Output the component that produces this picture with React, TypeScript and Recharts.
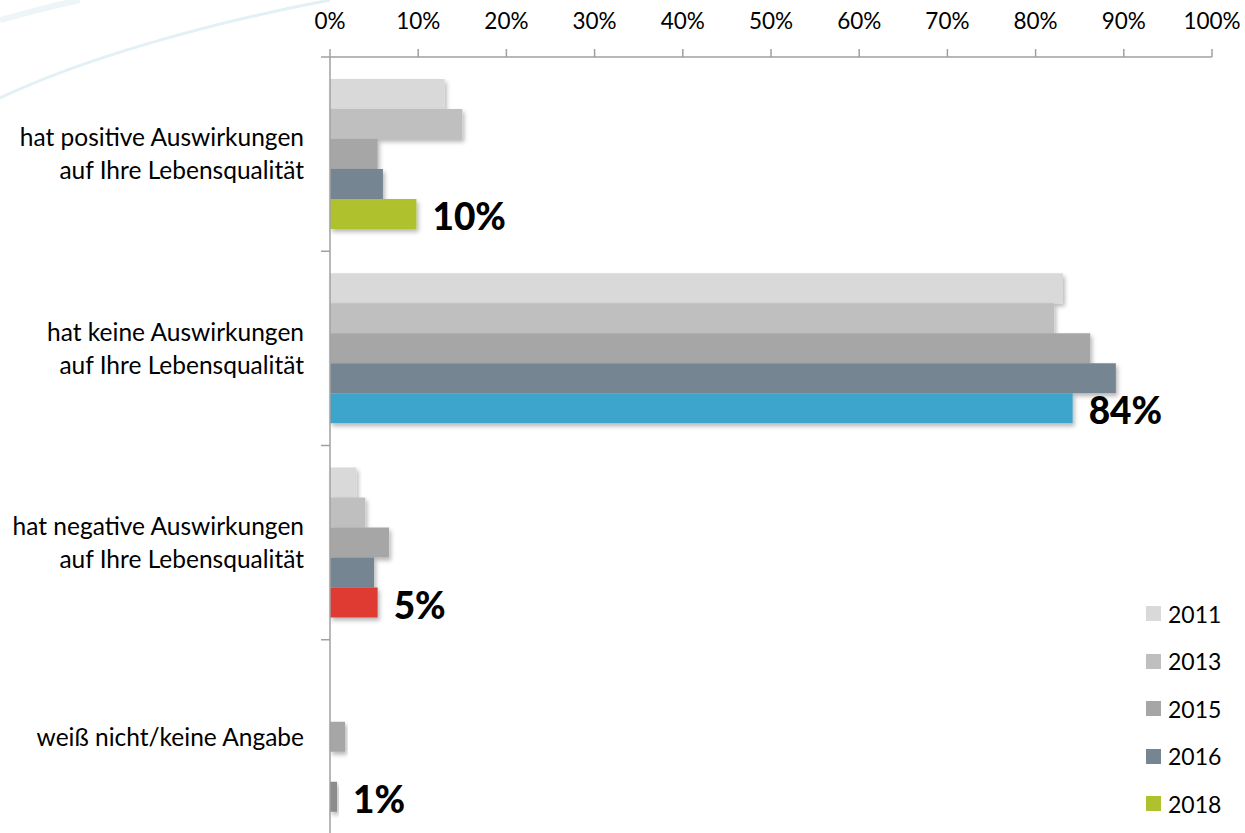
import React from 'react';
import { BarChart, Bar, XAxis, YAxis, Cell, LabelList, Legend } from 'recharts';

const categories = [
  'hat positive Auswirkungen\nauf Ihre Lebensqualität',
  'hat keine Auswirkungen\nauf Ihre Lebensqualität',
  'hat negative Auswirkungen\nauf Ihre Lebensqualität',
  'weiß nicht/keine Angabe',
];
const years = ['2011', '2013', '2015', '2016', '2018'];
const v2011 = [13, 83.1, 3, 0];
const v2013 = [15, 82.1, 4, 0];
const v2015 = [5.4, 86.2, 6.7, 1.7];
const v2016 = [6, 89.1, 5, 0];
const v2018 = [9.8, 84.2, 5.4, 0.8];
const xTicks = [0, 10, 20, 30, 40, 50, 60, 70, 80, 90, 100];

const seriesColors = ['#D9D9D9', '#BFBFBF', '#A6A6A6', '#758692', '#AFC22E'];
const colors2018 = ['#AFC22E', '#3DA4CB', '#E03A33', '#8C8C8C'];

const seriesValues = [v2011, v2013, v2015, v2016, v2018];
const data = categories.map((cat, i) => {
  const row: Record<string, any> = { cat };
  years.forEach((y, k) => {
    row['y' + y] = seriesValues[k][i];
  });
  return row;
});

const W = 1245;
const H = 833;
const X_AXIS_H = 57;
const Y_AXIS_W = 330;
const MARGIN = { top: 0, right: 33, bottom: -1, left: 0 };
const BAND = (H - MARGIN.top - MARGIN.bottom - X_AXIS_H) / categories.length;
const FONT = 'Lato, "Open Sans", sans-serif';
const AXIS_COLOR = '#A0A0A0';

const CatTick = (props: any) => {
  const { x, y, payload } = props;
  const lines = String(payload.value).split('\n');
  const lh = 33;
  const start = y - ((lines.length - 1) * lh) / 2;
  const plotLeft = MARGIN.left + Y_AXIS_W;
  return (
    <g>
      <line x1={plotLeft - 9} x2={plotLeft} y1={y - BAND / 2} y2={y - BAND / 2} stroke={AXIS_COLOR} strokeWidth={1.5} />
      <text x={x} y={start} textAnchor="end" fontSize={24.5} fontFamily={FONT} fill="#000">
        {lines.map((l, i) => (
          <tspan key={i} x={x} y={start + i * lh} dy="0.36em">
            {l}
          </tspan>
        ))}
      </text>
    </g>
  );
};

const BarShape = (props: any) => {
  const { x, y, width, height, fill } = props;
  if (!width || width <= 0) return null;
  return <rect x={x} y={y} width={width} height={height} fill={fill} filter="url(#barShadow)" />;
};

const LegendContent = (props: any) => {
  const payload = props.payload || [];
  return (
    <div style={{ fontFamily: FONT, fontSize: 23, color: '#000' }}>
      {payload.map((p: any, i: number) => (
        <div key={i} style={{ display: 'flex', alignItems: 'center', height: 47.5 }}>
          <span style={{ display: 'inline-block', width: 15, height: 15, background: p.color, marginRight: 7 }} />
          <span>{p.value}</span>
        </div>
      ))}
    </div>
  );
};

export default function App() {
  return (
    <div style={{ position: 'absolute', left: 0, top: 0, width: W, height: H, background: '#fff', overflow: 'hidden' }}>
      <svg width={W} height={H} style={{ position: 'absolute', left: 0, top: 0 }}>
        <path d="M 0 98 C 80 60, 200 25, 330 0" stroke="#E3F0F5" strokeWidth={3} fill="none" />
        <path d="M 0 20 C 30 12, 55 5, 80 0" stroke="#EEF5F8" strokeWidth={6} fill="none" />
      </svg>
      <BarChart
        width={W}
        height={H}
        data={data}
        layout="vertical"
        margin={MARGIN}
        barGap={0}
        barCategoryGap={22}
      >
        <defs>
          <filter id="barShadow" x="-10%" y="-20%" width="130%" height="160%">
            <feDropShadow dx="2" dy="3" stdDeviation="2" floodColor="#000" floodOpacity="0.28" />
          </filter>
        </defs>
        <XAxis
          type="number"
          orientation="top"
          domain={[0, 100]}
          ticks={xTicks}
          height={X_AXIS_H}
          tickFormatter={(v: number) => `${v}%`}
          tick={{ fontSize: 22.5, fontFamily: FONT, fill: '#000' }}
          tickSize={8}
          tickMargin={20}
          stroke={AXIS_COLOR}
          strokeWidth={1.5}
          interval={0}
        />
        <YAxis
          type="category"
          dataKey="cat"
          width={Y_AXIS_W}
          tick={<CatTick />}
          tickLine={false}
          tickSize={0}
          tickMargin={26}
          stroke={AXIS_COLOR}
          strokeWidth={1.5}
          interval={0}
        />
        {years.map((yr, k) => (
          <Bar
            key={yr}
            dataKey={'y' + yr}
            name={yr}
            fill={seriesColors[k]}
            isAnimationActive={false}
            shape={<BarShape />}
          >
            {k === years.length - 1 &&
              data.map((_, i) => <Cell key={i} fill={colors2018[i]} />)}
            {k === years.length - 1 && (
              <LabelList
                dataKey={'y' + yr}
                position="right"
                offset={16}
                dy={3}
                formatter={(v: any) => `${Math.round(Number(v))}%`}
                style={{ fontSize: 37, fontWeight: 900, fontFamily: FONT, fill: '#000' }}
              />
            )}
          </Bar>
        ))}
        <Legend
          layout="vertical"
          align="center"
          verticalAlign="middle"
          wrapperStyle={{ left: 1146, top: 590, width: 100 }}
          content={<LegendContent />}
        />
      </BarChart>
    </div>
  );
}
